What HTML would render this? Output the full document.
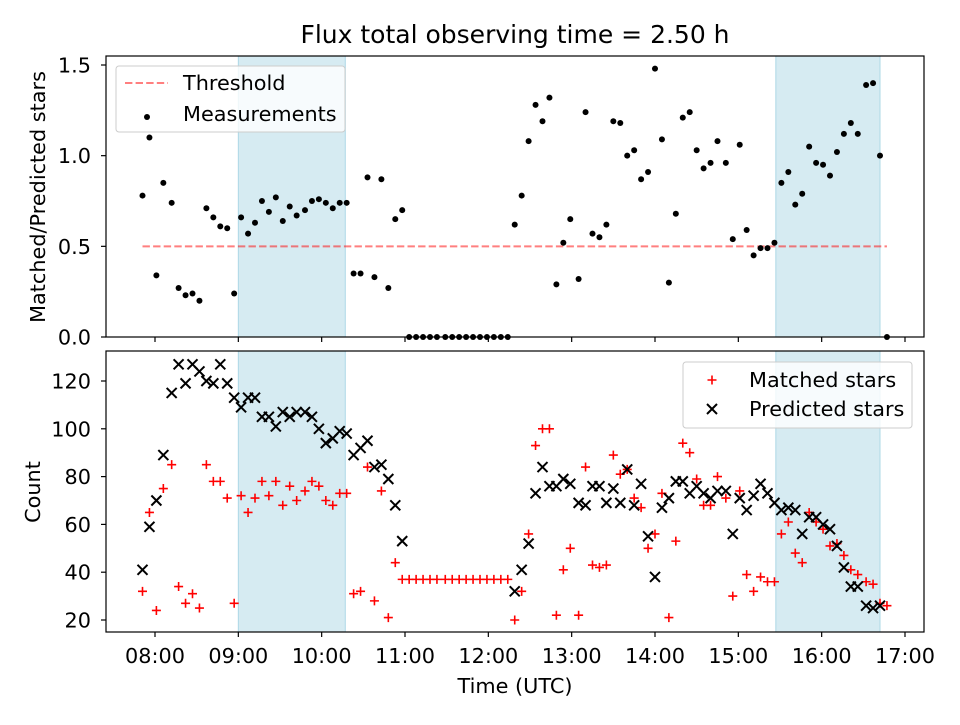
<!DOCTYPE html>
<html><head><meta charset="utf-8"><style>
body{margin:0;background:#fff;}
svg text{font-family:"DejaVu Sans","Liberation Sans",sans-serif;fill:#000;}
</style></head><body>
<svg id="c" width="960" height="720" viewBox="0 0 960 720" xmlns="http://www.w3.org/2000/svg"></svg>
<script>
// minutes relative to 08:00 for each sample
const times=[-9,-4,1,6,12,17,22,27,32,37,42,47,52,57,62,67,72,77,82,87,92,97,102,108,113,118,123,128,133,138,143,148,153,158,163,168,173,178,183,188,193,198,203,209,214,219,224,229,234,239,244,249,254,259,264,269,274,279,284,289,294,299,305,310,315,320,325,330,335,340,345,350,355,360,365,370,375,380,385,390,395,400,405,411,416,421,426,431,436,441,446,451,456,461,466,471,476,481,486,491,496,501,506,512,517,522,527];
const ratio=[0.78,1.10,0.34,0.85,0.74,0.27,0.23,0.24,0.20,0.71,0.66,0.61,0.60,0.24,0.66,0.57,0.63,0.75,0.69,0.77,0.64,0.72,0.67,0.70,0.75,0.76,0.74,0.71,0.74,0.74,0.35,0.35,0.88,0.33,0.87,0.27,0.65,0.70,
0,0,0,0,0,0,0,0,0,0,0,0,0,0,0,
0.62,0.78,1.08,1.28,1.19,1.32,0.29,0.52,0.65,0.32,1.24,0.57,0.55,0.62,1.19,1.18,1.00,1.03,0.87,0.91,1.48,1.09,0.30,0.68,1.21,1.24,1.03,0.93,0.96,1.08,0.96,0.54,1.06,0.59,0.45,0.49,0.49,0.52,0.85,0.91,0.73,0.79,1.05,0.96,0.95,0.89,1.02,1.12,1.18,1.12,1.39,1.40,1.00,0];
const matched=[32,65,24,75,85,34,27,31,25,85,78,78,71,27,72,65,71,78,72,78,68,76,70,74,78,76,70,68,73,73,31,32,84,28,74,21,44,37,
37,37,37,37,37,37,37,37,37,37,37,37,37,37,37,
20,32,56,93,100,100,22,41,50,22,84,43,42,43,89,81,83,71,67,50,56,73,21,53,94,90,79,68,68,80,71,30,74,39,32,38,36,36,56,61,48,44,65,61,58,51,52,47,41,39,36,35,27,26];
const predicted=[41,59,70,89,115,127,119,127,124,120,119,127,119,113,109,113,113,105,105,101,107,105,107,107,105,100,94,96,99,98,89,92,95,84,85,79,68,53,
null,null,null,null,null,null,null,null,null,null,null,null,null,null,null,
32,41,52,73,84,76,76,79,77,69,68,76,76,69,75,69,83,68,77,55,38,67,71,78,78,73,76,73,71,74,74,56,71,66,72,77,73,69,66,67,66,56,63,63,60,58,51,42,34,34,26,25,26,null];
const threshold=0.5;
const shadeStart=[60,447];
const shadeEnd=[137,522];
const xTicks=[0,60,120,180,240,300,360,420,480,540];
const xTickLabels=["08:00","09:00","10:00","11:00","12:00","13:00","14:00","15:00","16:00","17:00"];
const topTicks=[0,0.5,1.0,1.5];
const botTicks=[20,40,60,80,100,120];

const NS="http://www.w3.org/2000/svg";
const svg=document.getElementById('c');
function mk(tag,attrs,parent){const e=document.createElementNS(NS,tag);for(const k in attrs)e.setAttribute(k,attrs[k]);(parent||svg).appendChild(e);return e;}
const L=106,R=924,T1=56,B1=337,T2=351,B2=632;
const xs=m=>155+m*83.333/60;
const y1=v=>337-v*181.33;
const y2=v=>620-(v-20)*2.39;

function panel(T,B,name){
  const g=mk('g',{});
  
  
  shadeStart.forEach((s,i)=>{
    const r=mk('rect',{x:xs(s),y:T,width:xs(shadeEnd[i])-xs(s),height:B-T,fill:'#add8e6','fill-opacity':0.5,stroke:'#add8e6'},g);
    
    
  });
  return g;
}
const gTop=panel(T1,B1,'top-panel');
const th=mk('line',{x1:xs(times[0]),x2:xs(times[times.length-1]),y1:y1(threshold),y2:y1(threshold),stroke:'#f00','stroke-opacity':0.5,'stroke-width':2,'stroke-dasharray':'7.4,3.2'},gTop);


ratio.forEach((v,i)=>{
  if(v==null)return;
  const c=mk('circle',{cx:xs(times[i]),cy:y1(v),r:3,fill:'#000'},gTop);
  
  
});
const gBot=panel(T2,B2,'bottom-panel');
matched.forEach((v,i)=>{
  if(v==null)return;
  const x=xs(times[i]),y=y2(v);
  const p=mk('path',{d:`M${x-4.5},${y}H${x+4.5}M${x},${y-4.5}V${y+4.5}`,stroke:'#f00','stroke-width':1.6,fill:'none'},gBot);
  
  
});
predicted.forEach((v,i)=>{
  if(v==null)return;
  const x=xs(times[i]),y=y2(v);
  const p=mk('path',{d:`M${x-5},${y-5}L${x+5},${y+5}M${x-5},${y+5}L${x+5},${y-5}`,stroke:'#000','stroke-width':2,fill:'none'},gBot);
  
  
});
[[T1,B1,'top-frame'],[T2,B2,'bottom-frame']].forEach(([T,B,n])=>{
  const r=mk('rect',{x:L,y:T,width:R-L,height:B-T,fill:'none',stroke:'#000','stroke-width':1.2});
  
  
});
xTicks.forEach((m,i)=>{
  const x=xs(m);
  mk('line',{x1:x,x2:x,y1:B1,y2:B1+5,stroke:'#000','stroke-width':1.2});
  mk('line',{x1:x,x2:x,y1:B2,y2:B2+5,stroke:'#000','stroke-width':1.2});
  const t=mk('text',{x:x,y:663,'text-anchor':'middle','font-size':20.8});
  t.textContent=xTickLabels[i];
  
  
});
topTicks.forEach(v=>{
  const y=y1(v);
  mk('line',{x1:L-5,x2:L,y1:y,y2:y,stroke:'#000','stroke-width':1.2});
  const t=mk('text',{x:L-15,y:y+7.5,'text-anchor':'end','font-size':20.8});
  t.textContent=v.toFixed(1);
  
  
});
botTicks.forEach(v=>{
  const y=y2(v);
  mk('line',{x1:L-5,x2:L,y1:y,y2:y,stroke:'#000','stroke-width':1.2});
  const t=mk('text',{x:L-15,y:y+7.5,'text-anchor':'end','font-size':20.8});
  t.textContent=v;
  
  
});
</script>
<svg width="960" height="720" style="position:absolute;left:0;top:0" xmlns="http://www.w3.org/2000/svg">
<text x="515" y="43" text-anchor="middle" font-size="25">Flux total observing time = 2.50 h</text>
<text x="515" y="693" text-anchor="middle" font-size="20.8">Time (UTC)</text>
<text transform="translate(45,197) rotate(-90)" text-anchor="middle" font-size="20.8">Matched/Predicted stars</text>
<text transform="translate(40,492) rotate(-90)" text-anchor="middle" font-size="20.8">Count</text>
<g>
<rect x="116" y="66" width="229" height="66" rx="3" fill="#fff" fill-opacity="0.8" stroke="#ccc"/>
<line x1="125" x2="168" y1="83" y2="83" stroke="#f00" stroke-opacity="0.5" stroke-width="2" stroke-dasharray="7.4,3.2"/>
<text x="183" y="90" font-size="20.8">Threshold</text>
<circle cx="147" cy="117" r="3" fill="#000"/>
<text x="183" y="121" font-size="20.8">Measurements</text>
</g>
<g>
<rect x="683" y="362" width="229" height="66" rx="3" fill="#fff" fill-opacity="0.8" stroke="#ccc"/>
<path d="M707.5,380H716.5M712,375.5V384.5" stroke="#f00" stroke-width="1.6"/>
<text x="749" y="387" font-size="20.8">Matched stars</text>
<path d="M707,404L717,414M707,414L717,404" stroke="#000" stroke-width="2"/>
<text x="749" y="416" font-size="20.8">Predicted stars</text>
</g>
</svg>
</body></html>
